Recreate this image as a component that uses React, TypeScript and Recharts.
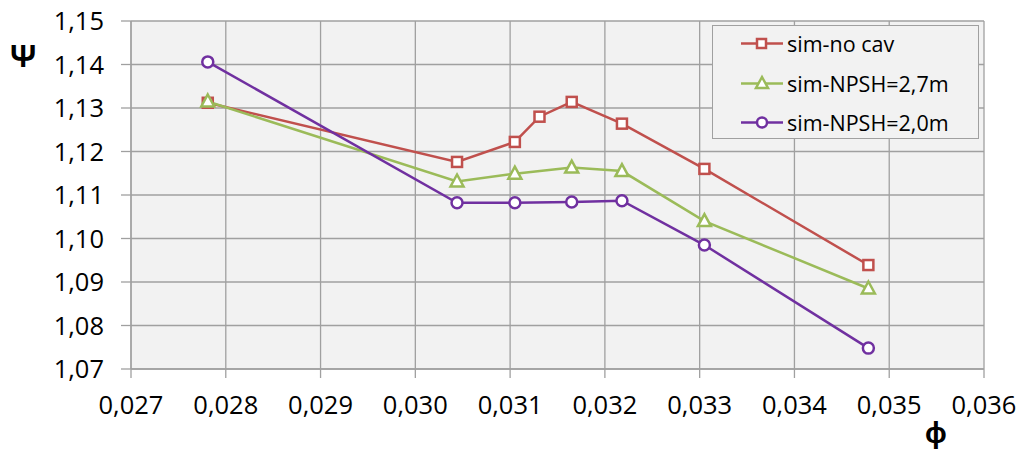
import { CartesianGrid, Line, LineChart, XAxis, YAxis } from 'recharts'

const noCavPhi = [0.02781, 0.03044, 0.03105, 0.03131, 0.03165, 0.03218, 0.03305, 0.03478]
const noCavPsi = [1.1312, 1.1176, 1.1222, 1.128, 1.1314, 1.1264, 1.116, 1.0939]

const npsh27Phi = [0.02781, 0.03044, 0.03105, 0.03165, 0.03218, 0.03305, 0.03478]
const npsh27Psi = [1.1315, 1.1131, 1.1149, 1.1163, 1.1155, 1.104, 1.0885]

const npsh20Phi = [0.02781, 0.03044, 0.03105, 0.03165, 0.03218, 0.03305, 0.03478]
const npsh20Psi = [1.1406, 1.1082, 1.1082, 1.1084, 1.1087, 1.0985, 1.0748]

const xTicks = [0.027, 0.028, 0.029, 0.03, 0.031, 0.032, 0.033, 0.034, 0.035, 0.036]
const yTicks = [1.07, 1.08, 1.09, 1.1, 1.11, 1.12, 1.13, 1.14, 1.15]

const seriesNames = ['sim-no cav', 'sim-NPSH=2,7m', 'sim-NPSH=2,0m']

const RED = '#C0504D'
const GREEN = '#9BBB59'
const PURPLE = '#7030A0'
const GRID = '#A0A0A0'
const FONT = '"Open Sans", sans-serif'

const toPoints = (xs: number[], ys: number[]) => xs.map((x, i) => ({ x, y: ys[i] }))

const noCav = toPoints(noCavPhi, noCavPsi)
const npsh27 = toPoints(npsh27Phi, npsh27Psi)
const npsh20 = toPoints(npsh20Phi, npsh20Psi)

const comma = (v: number, digits: number) => v.toFixed(digits).replace('.', ',')

function SquareDot(props: any) {
  const { cx, cy, key } = props
  if (cx == null || cy == null) return null
  return <rect key={key} x={cx - 5} y={cy - 5} width={10} height={10} fill="#fff" stroke={RED} strokeWidth={2.5} />
}

function TriangleDot(props: any) {
  const { cx, cy, key } = props
  if (cx == null || cy == null) return null
  return (
    <polygon
      key={key}
      points={`${cx},${cy - 7} ${cx + 6.5},${cy + 5} ${cx - 6.5},${cy + 5}`}
      fill="#fff"
      stroke={GREEN}
      strokeWidth={2.5}
    />
  )
}

function CircleDot(props: any) {
  const { cx, cy, key } = props
  if (cx == null || cy == null) return null
  return <circle key={key} cx={cx} cy={cy} r={5.5} fill="#fff" stroke={PURPLE} strokeWidth={2.5} />
}

function LegendBox() {
  const colors = [RED, GREEN, PURPLE]
  const markers = [
    <rect x={16} y={6} width={9} height={9} fill="#fff" stroke={RED} strokeWidth={2.5} />,
    <polygon points="21,4 27,15 15,15" fill="#fff" stroke={GREEN} strokeWidth={2.5} />,
    <circle cx={21} cy={10.5} r={5} fill="#fff" stroke={PURPLE} strokeWidth={2.5} />,
  ]
  return (
    <div
      style={{
        position: 'absolute',
        left: 712,
        top: 25,
        width: 267,
        height: 114,
        border: '1px solid #A0A0A0',
        background: '#F2F2F2',
        boxSizing: 'border-box',
        fontFamily: FONT,
        fontSize: 21.5,
        color: '#000',
      }}
    >
      {seriesNames.map((name, i) => (
        <div key={name} style={{ display: 'flex', alignItems: 'center', height: 39.5, marginTop: i === 0 ? -2 : 0 }}>
          <svg width={42} height={21} style={{ marginLeft: 28, marginRight: 4 }}>
            <line x1={0} y1={10.5} x2={42} y2={10.5} stroke={colors[i]} strokeWidth={2.5} />
            {markers[i]}
          </svg>
          <span>{name}</span>
        </div>
      ))}
    </div>
  )
}

export default function App() {
  return (
    <div style={{ position: 'absolute', left: 0, top: 0, width: 1021, height: 455, background: '#fff' }}>
      <LineChart width={1021} height={455} margin={{ top: 21, right: 37, left: 0, bottom: 36 }}>
        <CartesianGrid fill="#F2F2F2" stroke={GRID} strokeWidth={1.3} />
        <XAxis
          type="number"
          dataKey="x"
          domain={[0.027, 0.036]}
          ticks={xTicks}
          interval={0}
          allowDataOverflow
          height={50}
          tickSize={9}
          tickMargin={18}
          tickFormatter={(v: number) => comma(v, 3)}
          stroke={GRID}
          strokeWidth={1.3}
          tick={{ fill: '#000', fontSize: 25.5, fontFamily: FONT }}
        />
        <YAxis
          type="number"
          dataKey="y"
          domain={[1.07, 1.15]}
          ticks={yTicks}
          interval={0}
          allowDataOverflow
          width={131}
          tickSize={10}
          tickMargin={17}
          tickFormatter={(v: number) => comma(v, 2)}
          stroke={GRID}
          strokeWidth={1.3}
          tick={{ fill: '#000', fontSize: 25.5, fontFamily: FONT }}
        />
        <Line
          data={noCav}
          dataKey="y"
          name={seriesNames[0]}
          stroke={RED}
          strokeWidth={2.5}
          dot={SquareDot}
          isAnimationActive={false}
        />
        <Line
          data={npsh27}
          dataKey="y"
          name={seriesNames[1]}
          stroke={GREEN}
          strokeWidth={2.5}
          dot={TriangleDot}
          isAnimationActive={false}
        />
        <Line
          data={npsh20}
          dataKey="y"
          name={seriesNames[2]}
          stroke={PURPLE}
          strokeWidth={2.5}
          dot={CircleDot}
          isAnimationActive={false}
        />
      </LineChart>
      <LegendBox />
      <div
        style={{
          position: 'absolute',
          left: 10,
          top: 40,
          lineHeight: '32px',
          fontFamily: FONT,
          fontWeight: 'bold',
          fontSize: 30,
        }}
      >
        Ψ
      </div>
      <div
        style={{
          position: 'absolute',
          left: 925,
          top: 417,
          lineHeight: '30px',
          fontFamily: FONT,
          fontWeight: 'bold',
          fontSize: 29,
        }}
      >
        ϕ
      </div>
    </div>
  )
}
